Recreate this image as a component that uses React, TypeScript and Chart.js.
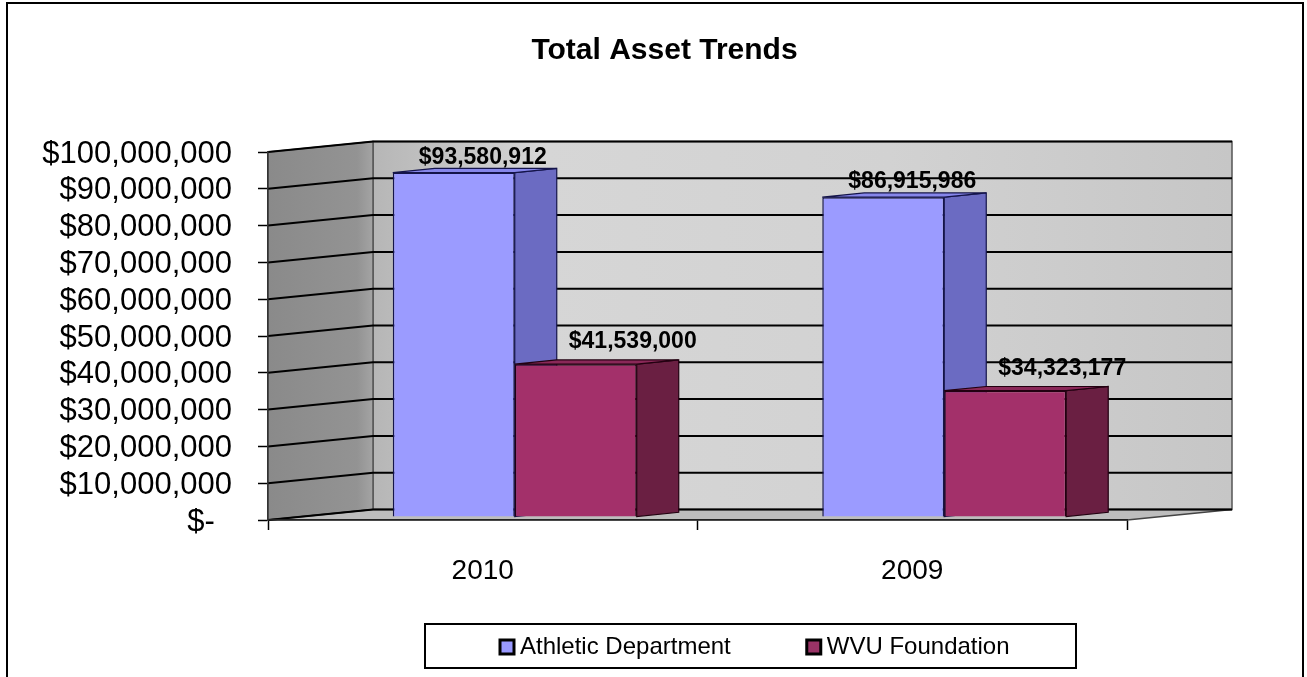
import React, { useEffect, useRef } from 'react';
import { Chart, registerables } from 'chart.js';

Chart.register(...registerables);

// ---------- data ----------
const TITLE = 'Total Asset Trends';
const CATEGORIES = ['2010', '2009'];
const SERIES_NAMES = ['Athletic Department', 'WVU Foundation'];
const ATHLETIC_VALUES = [93580912, 86915986];
const WVU_VALUES = [41539000, 34323177];
const Y_MIN = 0;
const Y_MAX = 100000000;
const Y_STEP = 10000000;

// ---------- styles ----------
const FONT = "'Liberation Sans', Arial, Helvetica, sans-serif";
const FRONT_COLORS = ['#9b9bff', '#a3306a'];
const SIDE_COLORS = ['#6b6bc2', '#6a1f42'];
const TOP_COLORS = ['#8686ea', '#8a2858'];
const EDGE_COLORS = ['#14144a', '#220010'];
const LEGEND_FILLS = ['#9999ff', '#993366'];

const WALL_DX = 105;
const WALL_DY = -10.5;
const BAR_DX = 32;
const BAR_DY = -3;
const BAR_DEPTH_DX = 42;
const BAR_DEPTH_DY = -4.2;
const LABEL_DX = [29, 57];
const LABEL_DY = [-15, -22];

const fmtTick = (v: number) => (v === 0 ? '$-  ' : '$' + Number(v).toLocaleString('en-US'));
const fmtLabel = (v: number) => '$' + Number(v).toLocaleString('en-US');

function poly(ctx: CanvasRenderingContext2D, pts: number[][], fill: any, stroke?: string, lw = 1) {
  ctx.beginPath();
  ctx.moveTo(pts[0][0], pts[0][1]);
  for (let k = 1; k < pts.length; k++) ctx.lineTo(pts[k][0], pts[k][1]);
  ctx.closePath();
  if (fill) {
    ctx.fillStyle = fill;
    ctx.fill();
  }
  if (stroke) {
    ctx.strokeStyle = stroke;
    ctx.lineWidth = lw;
    ctx.stroke();
  }
}

const threeDPlugin = {
  id: 'threeD',
  beforeDraw(chart: any) {
    const ctx: CanvasRenderingContext2D = chart.ctx;
    const { left, right, top, bottom } = chart.chartArea;
    const yScale = chart.scales.y;
    ctx.save();
    // outer frame
    ctx.strokeStyle = '#000';
    ctx.lineWidth = 2;
    ctx.strokeRect(7, 3, 1296, 900);

    // back wall
    const bl = left + WALL_DX;
    const br = right + WALL_DX;
    const bt = top + WALL_DY;
    const bb = bottom + WALL_DY;
    const g = ctx.createLinearGradient(bl, 0, br, 0);
    g.addColorStop(0, '#b6b6b6');
    g.addColorStop(0.2, '#d6d6d6');
    g.addColorStop(0.6, '#d2d2d2');
    g.addColorStop(1, '#c6c6c6');
    poly(ctx, [[bl, bt], [br, bt], [br, bb], [bl, bb]], g, '#555', 1.5);

    // left wall
    const lg = ctx.createLinearGradient(left, 0, bl, 0);
    lg.addColorStop(0, '#8a8a8a');
    lg.addColorStop(0.85, '#939393');
    lg.addColorStop(1, '#a4a4a4');
    poly(ctx, [[left, top], [bl, bt], [bl, bb], [left, bottom]], lg, '#555', 1.5);

    // floor
    poly(ctx, [[left, bottom], [right, bottom], [br, bb], [bl, bb]], '#bdbdbd', '#444', 1.5);

    // gridlines on the walls
    ctx.strokeStyle = '#000';
    ctx.lineWidth = 2;
    for (let v = Y_MIN; v <= Y_MAX; v += Y_STEP) {
      const yf = yScale.getPixelForValue(v);
      ctx.beginPath();
      ctx.moveTo(left, yf);
      ctx.lineTo(bl, yf + WALL_DY);
      ctx.lineTo(br, yf + WALL_DY);
      ctx.stroke();
    }
    ctx.restore();
  },
  beforeDatasetsDraw(chart: any) {
    const ctx: CanvasRenderingContext2D = chart.ctx;
    ctx.save();
    const nCat = chart.data.labels.length;
    const nDs = chart.data.datasets.length;
    for (let j = 0; j < nCat; j++) {
      for (let i = 0; i < nDs; i++) {
        const meta = chart.getDatasetMeta(i);
        const el = meta.data[j];
        if (!el) continue;
        const { x, y, base, width } = el.getProps(['x', 'y', 'base', 'width'], true);
        const x1 = x - width / 2 + BAR_DX;
        const x2 = x + width / 2 + BAR_DX;
        const yt = y + BAR_DY;
        const yb = base + BAR_DY;
        // side face
        poly(ctx, [[x2, yt], [x2 + BAR_DEPTH_DX, yt + BAR_DEPTH_DY], [x2 + BAR_DEPTH_DX, yb + BAR_DEPTH_DY], [x2, yb]], SIDE_COLORS[i], EDGE_COLORS[i], 1.2);
        // top face
        poly(ctx, [[x1, yt], [x2, yt], [x2 + BAR_DEPTH_DX, yt + BAR_DEPTH_DY], [x1 + BAR_DEPTH_DX, yt + BAR_DEPTH_DY]], TOP_COLORS[i], EDGE_COLORS[i], 1.2);
        // front face drawn by the library element
        ctx.save();
        ctx.translate(BAR_DX, BAR_DY);
        el.draw(ctx);
        ctx.restore();
      }
    }
    ctx.restore();
    return false;
  },
  afterDraw(chart: any) {
    const ctx: CanvasRenderingContext2D = chart.ctx;
    ctx.save();
    // data labels
    ctx.font = `bold 23px ${FONT}`;
    ctx.fillStyle = '#000';
    ctx.textAlign = 'center';
    ctx.textBaseline = 'middle';
    chart.data.datasets.forEach((ds: any, i: number) => {
      const meta = chart.getDatasetMeta(i);
      meta.data.forEach((el: any, j: number) => {
        const { x, y } = el.getProps(['x', 'y'], true);
        ctx.fillText(fmtLabel(ds.data[j]), x + BAR_DX + LABEL_DX[i], y + BAR_DY + LABEL_DY[i]);
      });
    });

    // legend
    const LX = 425, LY = 624, LW = 651, LH = 44;
    ctx.fillStyle = '#fff';
    ctx.fillRect(LX, LY, LW, LH);
    ctx.strokeStyle = '#000';
    ctx.lineWidth = 2;
    ctx.strokeRect(LX, LY, LW, LH);
    ctx.font = `24px ${FONT}`;
    ctx.textAlign = 'left';
    ctx.textBaseline = 'middle';
    let cx = 500;
    const cy = LY + LH / 2 + 1;
    chart.data.datasets.forEach((ds: any, i: number) => {
      ctx.fillStyle = LEGEND_FILLS[i];
      ctx.fillRect(cx, cy - 7, 14, 14);
      ctx.strokeStyle = '#000';
      ctx.lineWidth = 3;
      ctx.strokeRect(cx, cy - 7, 14, 14);
      ctx.fillStyle = '#000';
      ctx.fillText(ds.label, cx + 20, cy);
      cx += 20 + ctx.measureText(ds.label).width + 76;
    });
    ctx.restore();
  },
};

export default function App() {
  const ref = useRef<HTMLCanvasElement | null>(null);
  useEffect(() => {
    if (!ref.current) return;
    Chart.defaults.font.family = FONT;
    const chart = new Chart(ref.current, {
      type: 'bar',
      data: {
        labels: CATEGORIES,
        datasets: [
          {
            label: SERIES_NAMES[0],
            data: ATHLETIC_VALUES,
            backgroundColor: FRONT_COLORS[0],
            borderColor: EDGE_COLORS[0],
            borderWidth: 1.5,
            categoryPercentage: 0.568,
            barPercentage: 1,
          },
          {
            label: SERIES_NAMES[1],
            data: WVU_VALUES,
            backgroundColor: FRONT_COLORS[1],
            borderColor: EDGE_COLORS[1],
            borderWidth: 1.5,
            categoryPercentage: 0.568,
            barPercentage: 1,
          },
        ],
      },
      options: {
        responsive: false,
        animation: false,
        layout: { padding: { left: 22, right: 0, top: 0, bottom: 0 } },
        plugins: {
          legend: { display: false },
          tooltip: { enabled: false },
          title: {
            display: true,
            text: TITLE,
            color: '#000',
            font: { family: FONT, size: 30, weight: 'bold', lineHeight: 1.2 },
            padding: { top: 32.5, bottom: 83.5 },
          },
        },
        scales: {
          x: {
            type: 'category',
            offset: true,
            grid: {
              offset: true,
              drawOnChartArea: false,
              drawTicks: true,
              tickLength: 10,
              tickColor: '#000',
              tickWidth: 1.5,
            },
            border: { display: true, color: '#222', width: 1.5 },
            ticks: { color: '#000', font: { family: FONT, size: 28 }, padding: 24, maxRotation: 0 },
            afterFit: (s: any) => {
              s.height = 157;
            },
          },
          y: {
            min: Y_MIN,
            max: Y_MAX,
            ticks: {
              stepSize: Y_STEP,
              autoSkip: false,
              callback: (v: any) => fmtTick(Number(v)),
              color: '#000',
              font: { family: FONT, size: 31, lineHeight: 1 },
              padding: 26,
              labelOffset: 2,
            },
            grid: {
              drawOnChartArea: false,
              drawTicks: true,
              tickLength: 10,
              tickColor: '#000',
              tickWidth: 1.5,
            },
            border: { display: true, color: '#333', width: 1.5 },
            afterFit: (s: any) => {
              s.width = 246;
            },
          },
          spacer: {
            type: 'linear',
            position: 'right',
            display: true,
            grid: { display: false, drawTicks: false },
            border: { display: false },
            ticks: { display: false },
            afterFit: (s: any) => {
              s.width = 180;
            },
          },
        },
      },
      plugins: [threeDPlugin],
    } as any);
    return () => chart.destroy();
  }, []);
  return (
    <canvas
      ref={ref}
      width={1307}
      height={677}
      style={{ position: 'fixed', left: 0, top: 0, display: 'block', width: 1307, height: 677 }}
    />
  );
}
